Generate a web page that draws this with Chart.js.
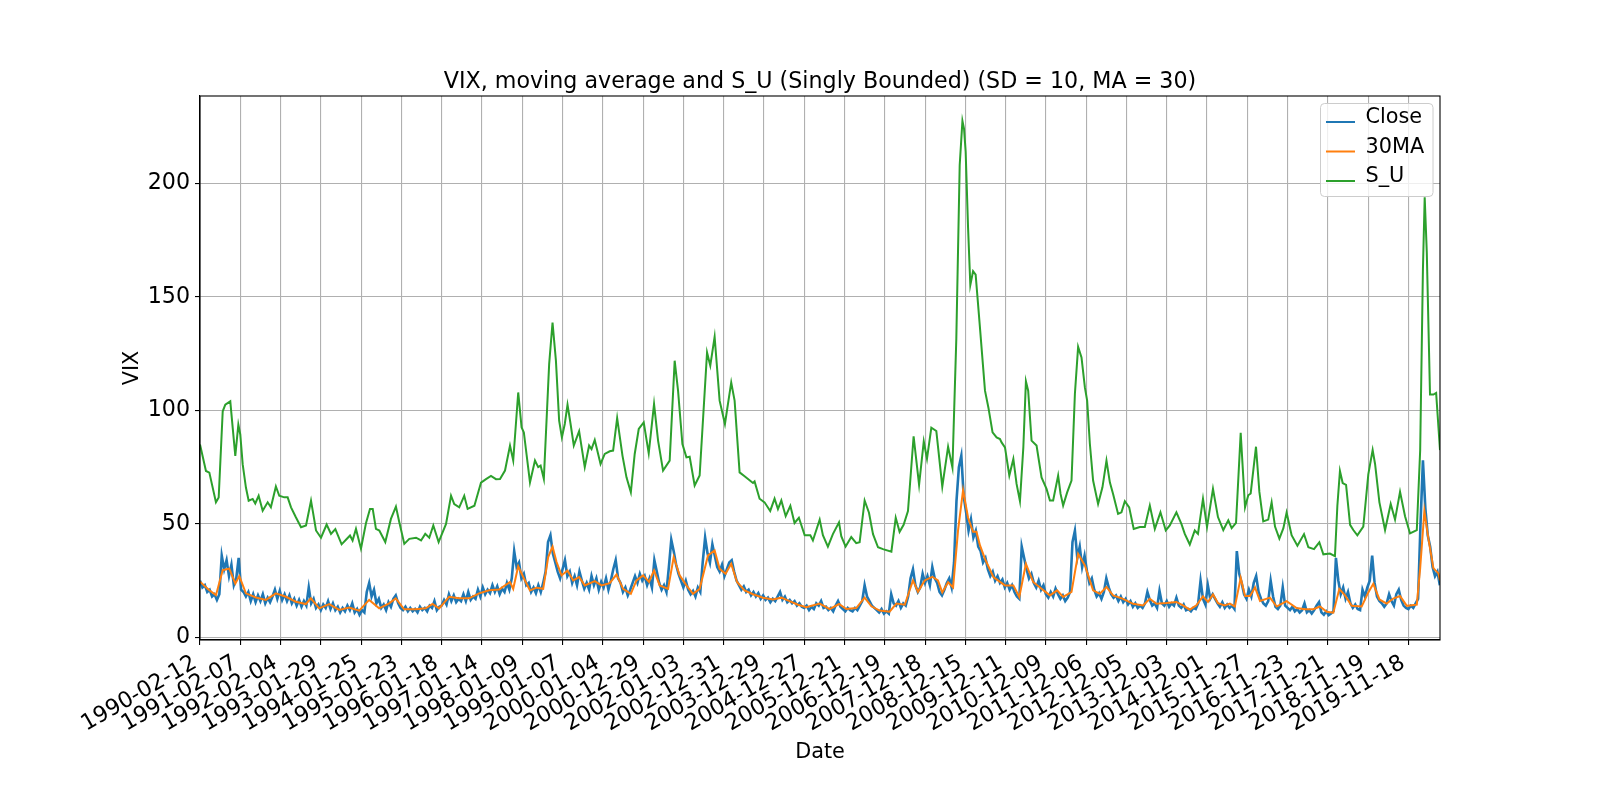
<!DOCTYPE html>
<html>
<head>
<meta charset="utf-8">
<title>VIX, moving average and S_U</title>
<script src="https://cdn.jsdelivr.net/npm/chart.js@4.4.1/dist/chart.umd.min.js"></script>
<style>
  html, body { margin: 0; background: #fff; }
  canvas { display: block; }
</style>
</head>
<body>
<canvas id="vixChart" width="1600" height="800"></canvas>
<script>
// === Data: x is the trading-day index counted from 1990-02-12 ===
const tickDates = [
  '1990-02-12', '1991-02-07', '1992-02-04', '1993-01-29', '1994-01-25', '1995-01-23',
  '1996-01-18', '1997-01-14', '1998-01-09', '1999-01-07', '2000-01-04', '2000-12-29',
  '2002-01-03', '2002-12-31', '2003-12-29', '2004-12-27', '2005-12-21', '2006-12-19',
  '2007-12-18', '2008-12-15', '2009-12-11', '2010-12-09', '2011-12-06', '2012-12-05',
  '2013-12-03', '2014-12-01', '2015-11-27', '2016-11-23', '2017-11-21', '2018-11-19',
  '2019-11-18'
];
const tickEvery = 250;
const lastDay = 7696;
const yTicks = [0, 50, 100, 150, 200];

// Close, one reading every 15 trading days (one row = 150 days)
const closeStep = 15;
const closeValues = [
  25, 22, 23, 20, 21, 18, 19, 16.5, 19, 36,
  30, 34, 27, 32, 23, 26, 35, 21, 20, 18,
  20, 16, 19, 15.5, 18.5, 16, 19, 15, 17.5, 15.5,
  18, 21, 17, 20.5, 16.5, 19, 16, 18.5, 15, 17,
  14, 16.5, 13.5, 16, 14, 22, 15, 17, 13, 14.5,
  12, 14.5, 13, 16, 12.5, 15, 12, 13.5, 11, 13,
  11.5, 14, 12, 15, 11, 12.5, 10, 12, 11, 20,
  24, 18, 21, 15, 17, 13, 14.5, 12, 15.5, 13.5,
  17, 18.5, 15, 13, 12, 13.5, 11.5, 13, 11.5, 12.5,
  11, 13.5, 12, 13, 11.5, 14, 13, 16, 12, 13.5,
  14, 16.5, 14.5, 19, 16, 18.5, 15.5, 17, 16, 19,
  16, 20, 16.5, 18, 17, 21, 18, 22, 19, 21,
  19.5, 23, 20, 22.5, 19, 21.5, 20, 24, 21, 26,
  38, 31, 33, 26, 28, 23, 24, 20, 22, 19.5,
  23, 20, 24, 29, 42, 45, 37, 33, 29, 26,
  30, 34, 27, 29, 24, 27, 23, 29, 25, 21.5,
  24, 21, 27, 23, 26, 21, 24.5, 22, 26, 21,
  25, 30, 34, 26, 24, 20, 22, 18.5, 21, 24,
  27, 24, 28, 25, 27, 23, 26, 22, 34, 29,
  24, 21, 23, 20, 31, 43, 38, 32, 28, 25,
  22, 25, 21, 19, 20.5, 18, 22, 20, 33, 44,
  37, 33, 41, 36, 31, 29, 32, 27, 30, 33,
  34, 29, 25, 23, 21, 22.5, 20, 21, 18.5, 20,
  18, 19.5, 17, 18.5, 16.5, 17.5, 15.5, 17, 16, 18,
  20, 16.5, 18, 15.5, 16.5, 15, 16, 14, 15, 13.5,
  13, 14, 12, 13.5, 12.5, 15, 14, 16, 13, 13.5,
  12, 13, 11.5, 14, 16, 13.5, 12.5, 11.5, 13, 12,
  11.5, 13, 12, 14, 16, 23, 18, 16, 14, 13,
  12, 11, 12.5, 10.5, 11.5, 10.5, 19, 15, 14, 16,
  13, 15, 14, 18, 26, 30, 23, 20, 22, 28,
  24, 27, 23, 31, 26, 24, 20, 18.5, 21, 24,
  26, 22, 33, 60, 75, 80, 62, 55, 47, 52,
  44, 47, 40, 38, 33, 35, 30, 27, 29, 25,
  27, 24, 25.5, 22, 24, 21, 23, 20, 18, 17,
  40, 35, 30, 26, 28, 24, 22, 25, 21, 23,
  19, 17.5, 20, 18, 21.5, 19, 17, 18.5, 16, 17.5,
  20, 42, 47, 35, 40, 31, 36, 29, 24, 26,
  21, 18, 19.5, 17, 20, 26, 22, 19, 17.5, 18.5,
  16, 18, 15.5, 17, 14.5, 16, 13.5, 15, 13, 14,
  13, 15, 20, 16.5, 14, 15, 13, 20.5, 15, 14,
  16, 13.5, 15, 14, 17.5, 14, 13, 14.5, 12, 12.5,
  11.5, 13, 12.5, 15, 25, 17, 14.5, 23, 17, 19,
  17, 15, 13.5, 15.5, 13, 14.5, 13, 14, 12.5, 38,
  28, 24, 19, 17, 21, 18, 24, 27, 20, 17,
  15, 14, 16, 25, 18, 13.5, 12.5, 14, 22, 14,
  13, 12, 13.5, 11.5, 12.5, 11, 12, 15, 11, 12,
  10.5, 12, 14, 15.5, 11, 10, 11.5, 9.8, 10.5, 11.5,
  35, 25, 19, 22, 17, 20, 15, 13, 14.5, 12.5,
  12, 21, 18, 22, 25, 36, 24, 18, 16, 15,
  13.5, 15, 19, 16, 14, 19, 21, 16.5, 14, 13,
  12.5, 14, 13, 15, 17, 50, 78, 57, 45, 40,
  31, 27, 29, 23
];

// 30-day moving average
const maDays = [
  0, 58, 99, 141, 182, 219, 244, 285, 347, 409, 471, 533, 595, 657, 688, 740,
  802, 864, 926, 988, 1050, 1112, 1174, 1215, 1267, 1339, 1401, 1443, 1484, 1546,
  1608, 1670, 1732, 1794, 1856, 1924, 1944, 1975, 2006, 2048, 2089, 2130, 2161, 2188,
  2213, 2244, 2281, 2316, 2353, 2388, 2450, 2492, 2543, 2585, 2626, 2674, 2709, 2750,
  2787, 2818, 2853, 2905, 2940, 2977, 3019, 3060, 3101, 3153, 3194, 3225, 3262, 3297,
  3333, 3380, 3432, 3494, 3556, 3608, 3659, 3711, 3763, 3846, 3908, 3966, 4011, 4073,
  4125, 4167, 4218, 4280, 4322, 4374, 4425, 4456, 4498, 4545, 4580, 4607, 4643, 4674,
  4705, 4736, 4767, 4798, 4819, 4841, 4872, 4924, 4996, 5048, 5085, 5126, 5171, 5223,
  5275, 5320, 5357, 5409, 5450, 5492, 5543, 5585, 5626, 5667, 5729, 5791, 5853, 5895,
  5936, 5998, 6060, 6101, 6143, 6184, 6225, 6256, 6287, 6318, 6359, 6392, 6423, 6459,
  6486, 6517, 6548, 6579, 6641, 6682, 6744, 6806, 6858, 6910, 6951, 6993, 7034, 7071,
  7107, 7148, 7210, 7251, 7282, 7320, 7365, 7406, 7448, 7490, 7552, 7573, 7599, 7624,
  7655, 7686, 7696
];
const maValues = [
  24.5, 20.8, 18.6, 29.6, 30.3, 23.7, 27, 19.4, 17.6, 16.5, 19.4, 17.9, 15.7, 14.7, 17.2, 12.8,
  14.7, 12.1, 13.2, 11.8, 16.5, 12.8, 15, 17.2, 12.4, 12.4, 12.8, 14.7, 12.8, 17.9,
  17.2, 17.2, 19.4, 20.8, 21.1, 24.4, 21.4, 31.3, 26.6, 20.7, 21.9, 21.4, 35.4, 40,
  33.2, 27.3, 29.5, 25.1, 26.6, 22.9, 24.8, 22.9, 23.9, 27.7, 21.4, 19.2, 25.1, 27.3,
  24.4, 29.5, 22.9, 21.4, 35.4, 27.3, 22.9, 19.2, 21.4, 36.1, 38.3, 30.2, 28, 32.4,
  24.4, 20.7, 19, 17.5, 16.7, 17.5, 16, 14.4, 13.3, 14.9, 12.5, 14.7, 12.5, 12.9,
  17.5, 13.7, 11.8, 11.3, 14.9, 14.4, 25.1, 20.1, 25.1, 26.7, 25.1, 19.8, 24.3, 22,
  47.3, 64.9, 52.7, 46.5, 46.5, 40.5, 34.6, 26.6, 22.9, 22.9, 17.8, 32.4, 24.4, 21.4,
  18.5, 20.7, 17.8, 20, 36.8, 31.7, 20.7, 19.2, 22.2, 18.5, 17, 14.8, 14.1, 17,
  14.8, 15.1, 15.6, 14.1, 12.2, 14.1, 18.1, 15.6, 18.9, 15.1, 14.1, 14.9, 13.6, 26.2,
  18.2, 18.2, 22, 16, 17.5, 13.6, 16, 12.9, 12.4, 12.4, 13.6, 11.3, 10.9, 21.3,
  18.5, 13.9, 13.6, 19.8, 23.6, 16.7, 14.9, 17.1, 18.2, 13.9, 14.4, 30.5, 55.7, 43.5,
  30.5, 28.2, 25.1
];

// S_U (singly bounded)
const suDays = [
  0, 37, 58, 99, 116, 141, 157, 188, 203, 219, 238, 250, 265, 285, 302, 327,
  343, 364, 389, 420, 440, 471, 492, 523, 544, 565, 595, 627, 658, 689, 703, 720,
  751, 786, 813, 840, 879, 906, 931, 947, 968, 999, 1030, 1055, 1072, 1092, 1113, 1150,
  1185, 1216, 1237, 1268, 1299, 1341, 1372, 1398, 1423, 1448, 1481, 1527, 1558, 1578,
  1609, 1640, 1661, 1703, 1744, 1775, 1806, 1837, 1862, 1893, 1924, 1944, 1975, 1996,
  2010, 2048, 2079, 2099, 2114, 2134, 2167, 2188, 2209, 2229, 2246, 2264, 2281, 2300,
  2320, 2353, 2388, 2415, 2430, 2450, 2486, 2512, 2543, 2564, 2589, 2622, 2647, 2674,
  2698, 2723, 2754, 2785, 2818, 2843, 2874, 2915, 2946, 2967, 2994, 3019, 3039, 3070,
  3101, 3147, 3167, 3194, 3225, 3258, 3297, 3318, 3349, 3380, 3432, 3442, 3473, 3504,
  3539, 3566, 3587, 3608, 3635, 3664, 3690, 3717, 3753, 3788, 3804, 3846, 3866, 3897,
  3928, 3966, 3980, 4007, 4042, 4073, 4094, 4125, 4152, 4177, 4208, 4239, 4291, 4318,
  4342, 4367, 4394, 4429, 4463, 4492, 4512, 4539, 4570, 4607, 4643, 4670, 4694, 4715,
  4732, 4742, 4752, 4767, 4781, 4798, 4814, 4839, 4872, 4893, 4919, 4944, 4965, 4975,
  4996, 5023, 5048, 5068, 5089, 5110, 5126, 5140, 5161, 5192, 5223, 5254, 5275, 5295,
  5326, 5341, 5357, 5382, 5409, 5430, 5450, 5471, 5492, 5506, 5523, 5543, 5574, 5601,
  5626, 5647, 5667, 5698, 5719, 5740, 5767, 5795, 5833, 5864, 5895, 5926, 5961, 5994,
  6019, 6060, 6091, 6112, 6143, 6174, 6194, 6225, 6250, 6287, 6318, 6351, 6382, 6403,
  6430, 6459, 6486, 6506, 6521, 6554, 6575, 6599, 6630, 6651, 6672, 6699, 6724, 6744,
  6775, 6811, 6852, 6879, 6914, 6947, 6972, 7013, 7044, 7059, 7075, 7092, 7113, 7138,
  7158, 7183, 7220, 7251, 7278, 7293, 7320, 7355, 7390, 7417, 7448, 7479, 7510, 7552,
  7573, 7590, 7601, 7614, 7634, 7655, 7672, 7696
];
const suValues = [
  85, 73.3, 72.6, 59.5, 61.6, 99.6, 102.5, 104, 92.3, 80, 93.7, 89.4, 76.2, 66, 60.2, 61,
  59, 62.4, 55.8, 59.5, 57.3, 66.5, 62.4, 61.7, 61.7, 57.3, 52.9, 48.5, 49.3, 60.2, 54.4, 47.1,
  43.9, 49.7, 45.6, 47.7, 41, 43, 44.9, 42.7, 47.8, 39.1, 50.3, 56.6, 56.6, 47.8, 47.1, 42,
  52.2, 57.6, 50.7, 41.2, 43.4, 43.9, 42.7, 45.6, 43.9, 49.3, 42, 50, 62.4, 58.7,
  57.3, 62.4, 56.6, 58, 68.2, 69.7, 71.1, 69.7, 69.8, 73.5, 84.5, 77.9, 107.9, 92.5,
  90.3, 68.3, 77.9, 75, 75.7, 69.8, 120.4, 138.7, 121.9, 95.5, 88.1, 94, 102.5, 94,
  84.5, 90.8, 75, 84.5, 83, 87, 76.4, 80.8, 82, 82.3, 96.6, 80.1, 70.5, 63.9,
  80.8, 91.8, 94.7, 81.1, 102.8, 86.7, 73.5, 77.9, 121.9, 108.7, 85.2, 79.3, 79.6, 66.9,
  71.3, 125.5, 119.7, 132.4, 104.3, 94, 112.3, 104.3, 72.7, 71, 68, 68.7, 61.1, 59.5,
  55.7, 61.1, 56.5, 60.3, 53.4, 58, 50.4, 52.7, 45, 45, 42.7, 51.9, 45, 40,
  45.5, 50.7, 44.6, 40, 44.2, 41.5, 41.9, 60.3, 54.9, 45.5, 39.7, 38.9, 37.8, 52.7,
  46.5, 49.6, 55.7, 88.6, 67.2, 86.3, 78.7, 92.4, 90.9, 66.4, 84, 74.8, 131.5, 208,
  227.5, 224, 214, 180.4, 155.2, 161.3, 159.8, 138, 108.7, 101.3, 90.3, 88.1, 87.4, 85.9,
  83.7, 71.3, 78.6, 67.6, 60, 83.7, 112.8, 108.7, 86.7, 84.5, 70.5, 65.4, 60.3, 60.3,
  71.3, 63.2, 58.1, 63.9, 69.1, 107.2, 128, 123.3, 110.1, 104.3, 85.2, 69.1, 58.8, 66.1,
  77.9, 68.3, 63.2, 54.4, 55.1, 60, 57.3, 47.8, 48.6, 48.6, 58.1, 47.8, 55.1, 47.1,
  49.3, 55.1, 50, 45.6, 40.9, 47.1, 45.6, 61, 48.6, 65.4, 53, 47.3, 51.6, 48.1,
  50.4, 90.1, 57.3, 62.6, 63.4, 84, 64.1, 51.1, 51.9, 59.5, 48.8, 43.5, 48.1, 55,
  45, 40.4, 45.5, 39.7, 38.9, 41.9, 36.6, 36.9, 35.8, 58, 73.3, 68, 67.2, 49.6,
  47.3, 45, 48.8, 71.8, 82.5, 76.4, 59.5, 47.3, 58.8, 51.9, 64.1, 53.4, 45.8, 47.3,
  82.5, 162, 193.9, 169.7, 107, 107, 107.7, 82.5
];

// === Styling (matplotlib look) ===
const FONT = '"DejaVu Sans", sans-serif';
const BLUE = '#1f77b4';
const ORANGE = '#ff7f0e';
const GREEN = '#2ca02c';
const TITLE = 'VIX, moving average and S_U (Singly Bounded) (SD = 10, MA = 30)';

const closePoints = closeValues.map((v, i) => ({ x: i * closeStep, y: v }));
const maPoints = maDays.map((d, i) => ({ x: d, y: maValues[i] }));
const suPoints = suDays.map((d, i) => ({ x: d, y: suValues[i] }));

const legendItems = [
  { label: 'Close', color: BLUE },
  { label: '30MA', color: ORANGE },
  { label: 'S_U', color: GREEN }
];

// title, axis labels, frame and legend drawn on top like matplotlib does
const decor = {
  id: 'decor',
  afterDraw(chart) {
    const { ctx, chartArea: a } = chart;
    ctx.save();

    ctx.strokeStyle = '#000';
    ctx.lineWidth = 1.1;
    ctx.strokeRect(a.left, a.top, a.right - a.left, a.bottom - a.top);

    ctx.fillStyle = '#000';
    ctx.textAlign = 'center';
    ctx.textBaseline = 'alphabetic';
    ctx.font = `22.2px ${FONT}`;
    ctx.fillText(TITLE, (a.left + a.right) / 2, a.top - 8);

    ctx.font = `20.8px ${FONT}`;
    ctx.fillText('Date', (a.left + a.right) / 2, 758);
    ctx.save();
    ctx.translate(137.5, (a.top + a.bottom) / 2);
    ctx.rotate(-Math.PI / 2);
    ctx.fillText('VIX', 0, 0);
    ctx.restore();

    // legend box, upper right
    const bx = a.right - 119.5, by = a.top + 7.5, bw = 112.5, bh = 93;
    ctx.beginPath();
    ctx.roundRect(bx, by, bw, bh, 4);
    ctx.fillStyle = 'rgba(255,255,255,0.8)';
    ctx.fill();
    ctx.strokeStyle = '#cccccc';
    ctx.lineWidth = 1;
    ctx.stroke();

    ctx.textAlign = 'left';
    ctx.textBaseline = 'middle';
    legendItems.forEach((item, i) => {
      const ly = by + 18.5 + i * 29.5;
      ctx.strokeStyle = item.color;
      ctx.lineWidth = 2;
      ctx.beginPath();
      ctx.moveTo(bx + 5.5, ly);
      ctx.lineTo(bx + 34.5, ly);
      ctx.stroke();
      ctx.fillStyle = '#000';
      ctx.fillText(item.label, bx + 45, ly - 4);
    });

    ctx.restore();
  }
};

const tickFont = { family: FONT, size: 22.2 };

new Chart(document.getElementById('vixChart'), {
  type: 'line',
  data: {
    datasets: [
      { label: 'Close', data: closePoints, borderColor: BLUE, borderWidth: 2.6, order: 3 },
      { label: '30MA', data: maPoints, borderColor: ORANGE, borderWidth: 2, order: 2 },
      { label: 'S_U', data: suPoints, borderColor: GREEN, borderWidth: 2, order: 1 }
    ]
  },
  options: {
    responsive: false,
    animation: false,
    devicePixelRatio: 1,
    parsing: false,
    elements: { point: { radius: 0 }, line: { tension: 0 } },
    layout: { padding: { top: 96, right: 160, bottom: 0, left: 0 } },
    plugins: { legend: { display: false }, tooltip: { enabled: false }, title: { display: false } },
    scales: {
      x: {
        type: 'linear',
        bounds: 'data',
        min: 0,
        max: lastDay,
        afterBuildTicks: s => { s.ticks = tickDates.map((d, i) => ({ value: i * tickEvery })); },
        afterFit: s => { s.height = 160; },
        ticks: {
          autoSkip: false,
          maxRotation: 30,
          minRotation: 30,
          padding: 5,
          labelOffset: -5,
          color: '#000',
          font: tickFont,
          callback: (v, i) => tickDates[i]
        },
        grid: { color: '#b0b0b0', lineWidth: 1.1, tickColor: '#000', tickLength: 5 },
        border: { display: true, color: '#000', width: 1.1 }
      },
      y: {
        type: 'linear',
        bounds: 'data',
        min: -1.15,
        max: 238.5,
        afterBuildTicks: s => { s.ticks = yTicks.map(v => ({ value: v })); },
        afterFit: s => { s.width = 200; },
        ticks: {
          padding: 5,
          color: '#000',
          font: tickFont,
          callback: v => String(v)
        },
        grid: { color: '#b0b0b0', lineWidth: 1.1, tickColor: '#000', tickLength: 5 },
        border: { display: true, color: '#000', width: 1.1 }
      }
    }
  },
  plugins: [decor]
});
</script>
</body>
</html>
